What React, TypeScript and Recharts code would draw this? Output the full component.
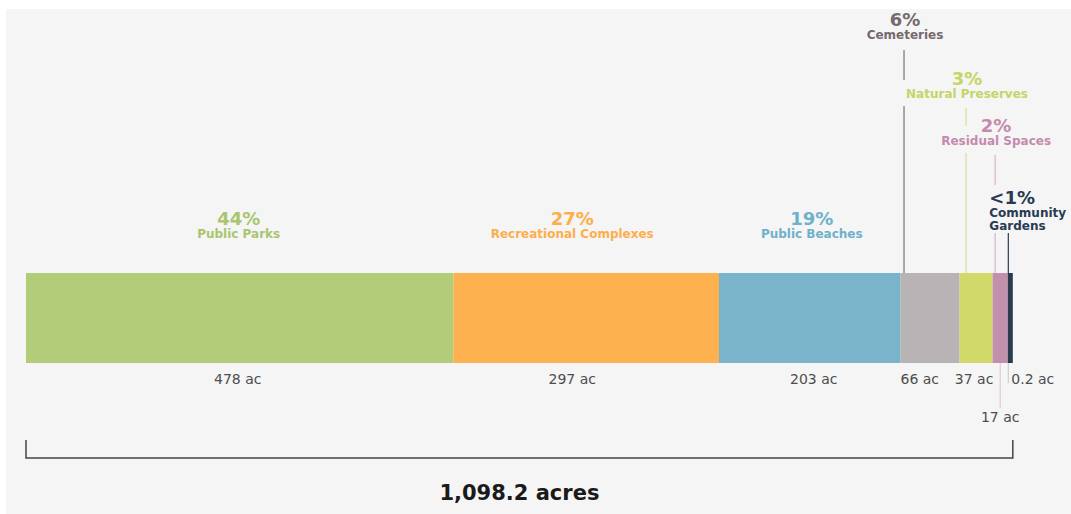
import { BarChart, Bar, XAxis, YAxis } from 'recharts';

// land use by category (acres)
const categories = [
  'Public Parks',
  'Recreational Complexes',
  'Public Beaches',
  'Cemeteries',
  'Natural Preserves',
  'Residual Spaces',
  'Community Gardens',
];
const acres = [478, 297, 203, 66, 37, 17, 0.2];
const shares = ['44%', '27%', '19%', '6%', '3%', '2%', '<1%'];
const valueLabels = ['478 ac', '297 ac', '203 ac', '66 ac', '37 ac', '17 ac', '0.2 ac'];
const totalAcres = 1098.2;
const totalLabel = '1,098.2 acres';

const barColors = ['#b3cc7a', '#fdb14f', '#7ab4cb', '#b8b3b4', '#d1d96b', '#c190ad', '#2c3a4e'];
const textColors = ['#a9c56f', '#fdae4b', '#6fb1ca', '#736a6e', '#c6d465', '#c48aae', '#2a3a52'];

const row: Record<string, string | number> = { name: 'land' };
acres.forEach((v, i) => {
  row[`s${i}`] = v;
});
const data = [row];

const W = 1065;
const H = 505;
const MARGIN = { top: 264, right: 63, bottom: 151, left: 20 };
const FONT = '"DejaVu Sans", sans-serif';
const BG = '#f5f5f5';

type TopCfg = {
  mode: 'center' | 'callout' | 'left';
  dx?: number;
  lineDx?: number;
  textDx?: number;
  pctDy?: number;
  lineColor?: string;
  // leader line pieces, offsets from the bar top (gaps where a later label sits)
  segments?: [number, number][];
};

const topLayout: TopCfg[] = [
  { mode: 'center', dx: -1 },
  { mode: 'center', dx: -14 },
  { mode: 'center', dx: 2 },
  { mode: 'callout', lineDx: 3.5, textDx: 1, pctDy: -247, lineColor: '#7b7176', segments: [[-223, -193], [-167, 0]] },
  { mode: 'callout', lineDx: 6.5, textDx: 1, pctDy: -188, lineColor: '#d7df93', segments: [[-165, -147], [-120, 0]] },
  { mode: 'callout', lineDx: 2.5, textDx: 1, pctDy: -141, lineColor: '#dab3ca', segments: [[-118, -88], [-40, 0]] },
  { mode: 'left', lineDx: 0.5, textDx: -19, pctDy: -69, lineColor: '#2c3a4e', segments: [[-40, 0]] },
];

type BottomCfg = {
  anchor: 'middle' | 'start';
  dx: number;
  dy: number;
  lineDx?: number;
  lineDy?: number;
  lineColor?: string;
};

const bottomLayout: BottomCfg[] = [
  { anchor: 'middle', dx: -2, dy: 21 },
  { anchor: 'middle', dx: -14, dy: 21 },
  { anchor: 'middle', dx: 4, dy: 21 },
  { anchor: 'start', dx: 0, dy: 21 },
  { anchor: 'middle', dx: -2, dy: 21 },
  { anchor: 'middle', dx: 0, dy: 59, lineDx: 0, lineDy: 45, lineColor: '#dccdd5' },
  { anchor: 'start', dx: 3.5, dy: 21, lineDx: 0.5, lineDy: 20, lineColor: '#d0d0d0' },
];

function makeLabel(i: number) {
  return (props: any) => {
    const vb = props.viewBox ?? props;
    const x = Number(vb.x);
    const y = Number(vb.y);
    const w = Number(vb.width);
    const h = Number(vb.height);
    const bottom = y + h;
    const top = topLayout[i];
    const bot = bottomLayout[i];
    const parts: any[] = [];

    // labels above the bar
    if (top.mode === 'center') {
      const cx = x + w / 2 + (top.dx ?? 0);
      parts.push(
        <text key="p" x={cx} y={y - 48} textAnchor="middle" fontFamily={FONT} fontWeight={700} fontSize={18} fill={textColors[i]}>
          {shares[i]}
        </text>,
        <text key="n" x={cx} y={y - 35} textAnchor="middle" fontFamily={FONT} fontWeight={700} fontSize={12} fill={textColors[i]}>
          {categories[i]}
        </text>,
      );
    } else {
      const lx = x + (top.lineDx ?? 0);
      const tx = lx + (top.textDx ?? 0);
      const pctY = y + (top.pctDy ?? 0);
      const anchor = top.mode === 'left' ? 'start' : 'middle';
      (top.segments ?? []).forEach(([a, b], k) => {
        parts.push(
          <line key={`l${k}`} x1={lx} x2={lx} y1={y + a} y2={y + b} stroke={top.lineColor} strokeWidth={1.2} />,
        );
      });
      parts.push(
        <text key="p" x={tx} y={pctY} textAnchor={anchor} fontFamily={FONT} fontWeight={700} fontSize={18} fill={textColors[i]}>
          {shares[i]}
        </text>,
      );
      if (top.mode === 'left') {
        const words = categories[i].split(' ');
        words.forEach((wd, k) => {
          parts.push(
            <text key={`n${k}`} x={tx} y={pctY + 12.5 + k * 13.5} textAnchor="start" fontFamily={FONT} fontWeight={700}
              fontSize={12} fill={textColors[i]}>
              {wd}
            </text>,
          );
        });
      } else {
        parts.push(
          <text key="n" x={tx} y={pctY + 13} textAnchor="middle" fontFamily={FONT} fontWeight={700} fontSize={12} fill={textColors[i]}>
            {categories[i]}
          </text>,
        );
      }
    }

    // value label under the bar
    const bx = bot.anchor === 'middle' ? x + w / 2 + bot.dx : x + bot.dx;
    if (bot.lineDy) {
      const lx = bot.anchor === 'middle' ? x + w / 2 + (bot.lineDx ?? 0) : x + (bot.lineDx ?? 0);
      parts.push(<line key="bl" x1={lx} x2={lx} y1={bottom} y2={bottom + bot.lineDy} stroke={bot.lineColor} strokeWidth={1.2} />);
    }
    parts.push(
      <text key="v" x={bx} y={bottom + bot.dy} textAnchor={bot.anchor} fontFamily={FONT} fontSize={14} fill="#4d4d4d">
        {valueLabels[i]}
      </text>,
    );

    // bracket + total under the whole bar
    if (i === acres.length - 1) {
      const left = MARGIN.left;
      const right = x + w;
      const bTop = bottom + 77;
      const bBase = bottom + 95;
      parts.push(
        <path key="br" d={`M${left},${bTop} L${left},${bBase} L${right},${bBase} L${right},${bTop}`} fill="none"
          stroke="#444" strokeWidth={1.5} />,
        <text key="t" x={(left + right) / 2} y={bottom + 137} textAnchor="middle" fontFamily={FONT} fontWeight={700}
          fontSize={21} fill="#1a1a1a">
          {totalLabel}
        </text>,
      );
    }

    return <g>{parts}</g>;
  };
}

export default function App() {
  return (
    <div style={{ position: 'absolute', left: 6, top: 9, width: W, height: H, background: BG }}>
      <BarChart width={W} height={H} data={data} layout="vertical" margin={MARGIN} barCategoryGap={0}>
        <XAxis type="number" domain={[0, totalAcres]} hide />
        <YAxis type="category" dataKey="name" hide />
        {acres.map((_, i) => (
          <Bar
            key={i}
            dataKey={`s${i}`}
            stackId="land"
            fill={barColors[i]}
            isAnimationActive={false}
            minPointSize={i === acres.length - 1 ? 5 : 0}
            label={makeLabel(i)}
          />
        ))}
      </BarChart>
    </div>
  );
}
